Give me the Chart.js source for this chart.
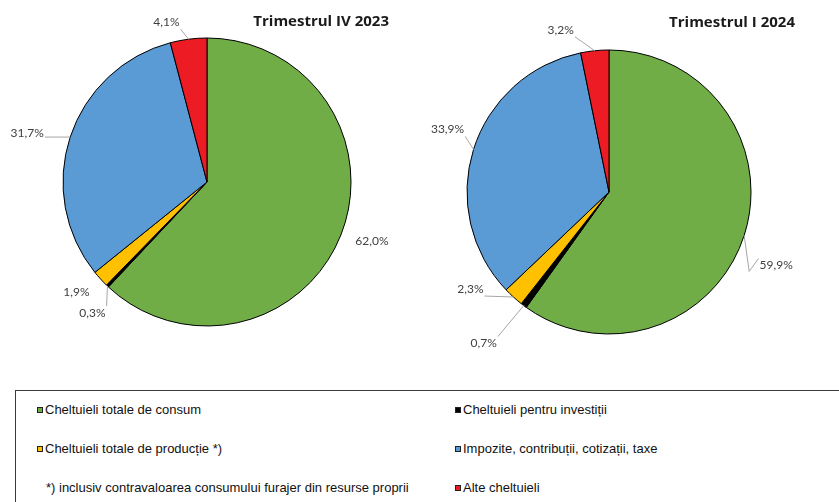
<!DOCTYPE html>
<html><head><meta charset="utf-8">
<script src="https://cdn.jsdelivr.net/npm/chart.js@4.4.0/dist/chart.umd.min.js"></script>
<style>
html,body{margin:0;padding:0;background:#fff;width:839px;height:502px;overflow:hidden;position:relative;}
.cw{position:absolute;}
#legend{position:absolute;left:15px;top:390px;width:900px;height:200px;border:1px solid #3a3a3a;box-sizing:border-box;font-family:"Liberation Sans",Arial,sans-serif;font-size:13px;color:#111;}
.li{position:absolute;display:flex;align-items:center;white-space:nowrap;height:16px;line-height:16px;}
.sw{width:4px;height:4px;border:1px solid #222;margin-right:2px;flex:none;}
</style></head><body>
<div class="cw" style="left:0;top:0;width:414px;height:364px"><canvas id="c1"></canvas></div>
<div class="cw" style="left:414px;top:0;width:390px;height:384px"><canvas id="c2"></canvas></div>
<div id="legend"></div>
<script>
// ---- data ----
const categories = [
  "Cheltuieli totale de consum",
  "Cheltuieli pentru investiții",
  "Cheltuieli totale de producție *)",
  "Impozite, contribuții, cotizații, taxe",
  "Alte cheltuieli"
];
const valuesQ4_2023 = [62.0, 0.3, 1.9, 31.7, 4.1];
const valuesQ1_2024 = [59.9, 0.7, 2.3, 33.9, 3.2];
const titleQ4_2023 = "Trimestrul IV 2023";
const titleQ1_2024 = "Trimestrul I 2024";
const footnote = "*) inclusiv contravaloarea consumului furajer din resurse proprii";

// ---- styles ----
const sliceColors = ["#70ad47", "#000000", "#ffc000", "#5b9bd5", "#ed1c24"];

function fmt(v){ return v.toFixed(1).replace('.', ',') + '%'; }

const titlePlugin = {
  id: 'sideTitle',
  afterDraw(chart, args, o){
    const ctx = chart.ctx;
    ctx.save();
    ctx.font = 'bold 15px "Open Sans", sans-serif';
    ctx.fillStyle = '#1a1a1a';
    ctx.textAlign = 'right';
    ctx.textBaseline = 'middle';
    ctx.fillText(o.text, o.right, o.y);
    ctx.restore();
  }
};

const labelPlugin = {
  id: 'pctLabels',
  afterDatasetsDraw(chart, args, o){
    const ctx = chart.ctx;
    const meta = chart.getDatasetMeta(0);
    const data = chart.data.datasets[0].data;
    ctx.save();
    ctx.font = '12px Lato, sans-serif';
    ctx.textAlign = 'center';
    ctx.textBaseline = 'middle';
    meta.data.forEach((arc, i) => {
      const p = arc.getProps(['x','y','startAngle','endAngle','outerRadius'], true);
      const mid = (p.startAngle + p.endAngle) / 2;
      const px = p.x + Math.cos(mid) * p.outerRadius;
      const py = p.y + Math.sin(mid) * p.outerRadius;
      const off = o.offsets[i];
      const lx = px + off[0], ly = py + off[1];
      const txt = fmt(data[i]);
      const w = ctx.measureText(txt).width, h = 12;
      if (off[2]) {
        const bx = Math.max(lx - w/2 - 1, Math.min(px, lx + w/2 + 1));
        const by = Math.max(ly - h/2 - 1, Math.min(py, ly + h/2 + 1));
        ctx.strokeStyle = '#a6a6a6';
        ctx.lineWidth = 1;
        ctx.beginPath();
        if (off[3]) { ctx.moveTo(px, py); ctx.lineTo(px + off[3][0], py + off[3][1]); ctx.lineTo(bx, by); }
        else { ctx.moveTo(px, py); ctx.lineTo(bx, by); }
        ctx.stroke();
      }
      ctx.fillStyle = '#404040';
      ctx.fillText(txt, lx, ly);
    });
    ctx.restore();
  }
};

function makePie(id, values, title, titleRight, titleY, radius, offsets){
  new Chart(document.getElementById(id), {
    type: 'pie',
    data: { labels: categories, datasets: [{ data: values, backgroundColor: sliceColors, borderColor: '#000', borderWidth: 1 }] },
    options: {
      responsive: true, maintainAspectRatio: false, animation: false,
      radius: radius,
      layout: { padding: 0 },
      plugins: {
        legend: { display: false }, tooltip: { enabled: false }, title: { display: false },
        sideTitle: { text: title, right: titleRight, y: titleY },
        pctLabels: { offsets: offsets }
      }
    },
    plugins: [labelPlugin, titlePlugin]
  });
}

makePie('c1', valuesQ4_2023, titleQ4_2023, 389, 22, 144, [
  [31, 6, false], [-15, 27, true], [-24, 13, false], [-43, -4, true], [-22, -17, true]
]);
makePie('c2', valuesQ1_2024, titleQ1_2024, 381, 23, 142, [
  [32, 30, true, [5, 36]], [-40, 38, true], [-43, -8, true], [-26, -20, true], [-34, -21, true]
]);

// ---- legend ----
const legend = document.getElementById('legend');
const legendSlots = [[21, 11], [439, 11], [21, 50], [439, 50], null, [439, 89]];
const order = [0, 1, 2, 3, null, 4];
order.forEach((ci, k) => {
  const d = document.createElement('div');
  d.className = 'li';
  if (ci === null) {
    d.style.left = '30px'; d.style.top = '89px';
    d.textContent = footnote;
  } else {
    const s = legendSlots[k];
    d.style.left = s[0] + 'px'; d.style.top = s[1] + 'px';
    const sw = document.createElement('span'); sw.className = 'sw'; sw.style.background = sliceColors[ci];
    const t = document.createElement('span'); t.textContent = categories[ci];
    d.appendChild(sw); d.appendChild(t);
  }
  legend.appendChild(d);
});
</script>
</body></html>
